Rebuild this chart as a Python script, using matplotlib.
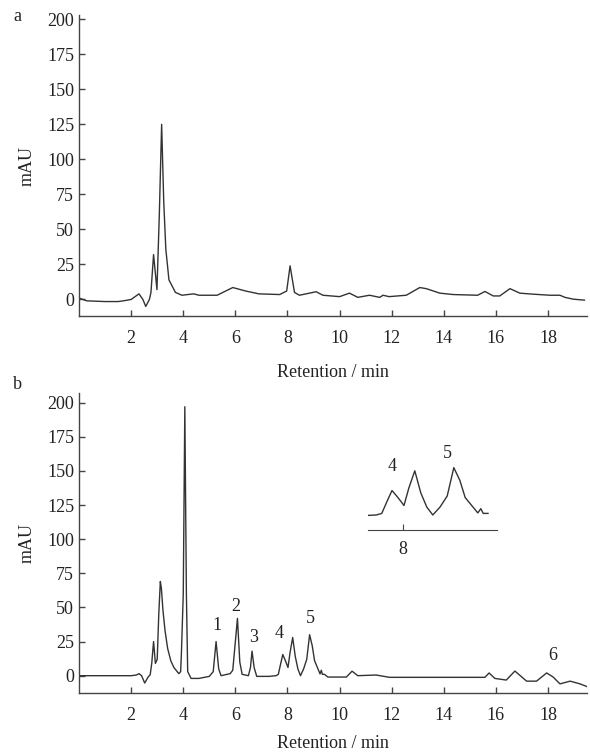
import matplotlib
matplotlib.use("Agg")
import matplotlib.pyplot as plt
import numpy as np

plt.rcParams['font.family'] = ['Liberation Serif', 'DejaVu Serif']

# chromatogram a (blank / sample)
t_a = [0, 0.3, 1.0, 1.5, 1.7, 2.0, 2.3, 2.45, 2.56, 2.7, 2.76, 2.86, 2.99,
       3.08, 3.17, 3.25, 3.33, 3.45, 3.7, 3.95, 4.4, 4.6, 5.3, 5.9, 6.4, 6.9,
       7.7, 7.97, 8.1, 8.27, 8.46, 9.1, 9.36, 10.0, 10.38, 10.7, 11.15, 11.54,
       11.67, 11.9, 12.56, 13.08, 13.33, 13.85, 14.36, 15.3, 15.58, 15.9,
       16.15, 16.54, 16.92, 17.4, 18.08, 18.46, 18.65, 18.97, 19.4]
mau_a = [1, -1, -1.5, -1.5, -1, 0, 4, 0, -5, 0, 5, 32, 7,
         60, 125, 70, 36, 14, 5, 3, 4, 3, 3, 8.5, 6, 4,
         3.5, 6, 24, 5, 3, 5.5, 3, 2, 4.5, 1.5, 3, 1.5,
         3, 2, 3, 8.5, 7.7, 4.5, 3.5, 3, 5.7, 2.5,
         2.5, 7.7, 4.5, 3.8, 3, 3, 1.5, 0.2, -0.5]

# chromatogram b (spiked sample)
t_b = [0, 1.0, 2.0, 2.2, 2.3, 2.4, 2.52, 2.65, 2.73, 2.79, 2.86, 2.93, 3.0,
       3.06, 3.12, 3.16, 3.22, 3.3, 3.4, 3.52, 3.64, 3.83, 3.9, 3.93, 4.0,
       4.06, 4.12, 4.17, 4.3, 4.6, 5.0, 5.15, 5.26, 5.36, 5.45, 5.8, 5.9,
       6.0, 6.08, 6.17, 6.26, 6.5, 6.58, 6.64, 6.72, 6.82, 7.3, 7.56, 7.65,
       7.73, 7.82, 7.92, 8.02, 8.1, 8.2, 8.3, 8.4, 8.5, 8.62, 8.74, 8.85,
       8.95, 9.04, 9.17, 9.25, 9.3, 9.34, 9.42, 9.55, 10.26, 10.48, 10.7,
       11.4, 11.92, 15.58, 15.74, 15.96, 16.4, 16.73, 17.18, 17.56, 17.95,
       18.2, 18.46, 18.85, 19.23, 19.5]
mau_b = [0, 0, 0, 0.5, 1.5, 0, -5.4, -1, 0.7, 9, 25, 9, 12,
         45, 69, 64, 48, 33, 20, 11, 6, 1.5, 3, 17, 60,
         197, 60, 3, -2, -2, -0.5, 3, 25, 5, 0, 1.5, 4,
         25, 42, 10, 1, 0, 6, 18, 6, -0.5, -0.5, 0, 1,
         8, 15.5, 11, 6, 17, 28, 14, 5, 0, 5, 12, 30,
         22, 11, 5, 1.3, 4, 1, 1, -1, -1, 3.3, 0,
         0.5, -1.2, -1.2, 2, -2, -3.2, 3.4, -4, -4, 2,
         -1, -6, -4, -6, -8]

peak_labels = ['1', '2', '3', '4', '5', '6']
peak_x = [5.31, 6.0, 6.69, 7.69, 8.88, 18.2]
peak_y = [37, 51, 28, 31, 42, 15]

inset_labels = ['4', '5']
inset_x = [7.82, 8.75]
inset_y = [31, 39]

yticks = [0, 25, 50, 75, 100, 125, 150, 175, 200]
xticks = [2, 4, 6, 8, 10, 12, 14, 16, 18]

line_col = '#333333'
fs = 13

fig = plt.figure(figsize=(5.9, 7.53), dpi=100)
ax_a = fig.add_axes([0.134, 0.580, 0.861, 0.400])
ax_b = fig.add_axes([0.134, 0.080, 0.861, 0.398])


def style(ax, ylim):
    ax.set_xlim(0, 19.5)
    ax.set_ylim(*ylim)
    for s in ['top', 'right']:
        ax.spines[s].set_visible(False)
    for s in ['left', 'bottom']:
        ax.spines[s].set_color('#444444')
        ax.spines[s].set_linewidth(1.0)
    ax.set_xticks(xticks)
    ax.set_yticks(yticks)
    ax.tick_params(direction='in', length=4, width=1, color='#444444',
                   labelsize=fs, labelcolor='#222222')
    ax.tick_params(axis='x', pad=10)
    ax.set_ylabel('mAU', fontsize=fs, color='#222222', labelpad=8)


ax_a.plot(t_a, mau_a, color=line_col, lw=1.0)
style(ax_a, (-12, 203))
ax_a.set_xlabel('Retention / min', fontsize=fs, color='#222222', labelpad=12)
fig.text(0.022, 0.978, 'a', fontsize=fs, va='center', color='#222222')

ax_b.plot(t_b, mau_b, color=line_col, lw=1.0)
style(ax_b, (-12.5, 207))
ax_b.set_xlabel('Retention / min', fontsize=fs, color='#222222', labelpad=8)
fig.text(0.022, 0.490, 'b', fontsize=fs, va='center', color='#222222')
for lab, x, y in zip(peak_labels, peak_x, peak_y):
    ax_b.text(x, y, lab, fontsize=fs, ha='center', va='center', color='#222222')

# inset zoom on peaks 4 and 5
t_arr = np.array(t_b)
m_arr = np.array(mau_b)
sel = (t_arr >= 7.3) & (t_arr <= 9.5)
ax_in = fig.add_axes([0.6237, 0.2962, 0.2187, 0.1142])
ax_in.plot(t_arr[sel], m_arr[sel], color=line_col, lw=1.0)
ax_in.set_xlim(7.42, 9.57)
ax_in.set_ylim(-9.5, 45)
ax_in.patch.set_alpha(0)
for s in ['top', 'right', 'left']:
    ax_in.spines[s].set_visible(False)
ax_in.spines['bottom'].set_color('#444444')
ax_in.set_yticks([])
ax_in.set_xticks([8])
ax_in.tick_params(axis='x', direction='in', length=4, color='#444444',
                  labelsize=fs, labelcolor='#222222', pad=8)
for lab, x, y in zip(inset_labels, inset_x, inset_y):
    ax_in.text(x, y, lab, fontsize=fs, ha='center', va='center', color='#222222')

fig.savefig('out.png', dpi=100)
